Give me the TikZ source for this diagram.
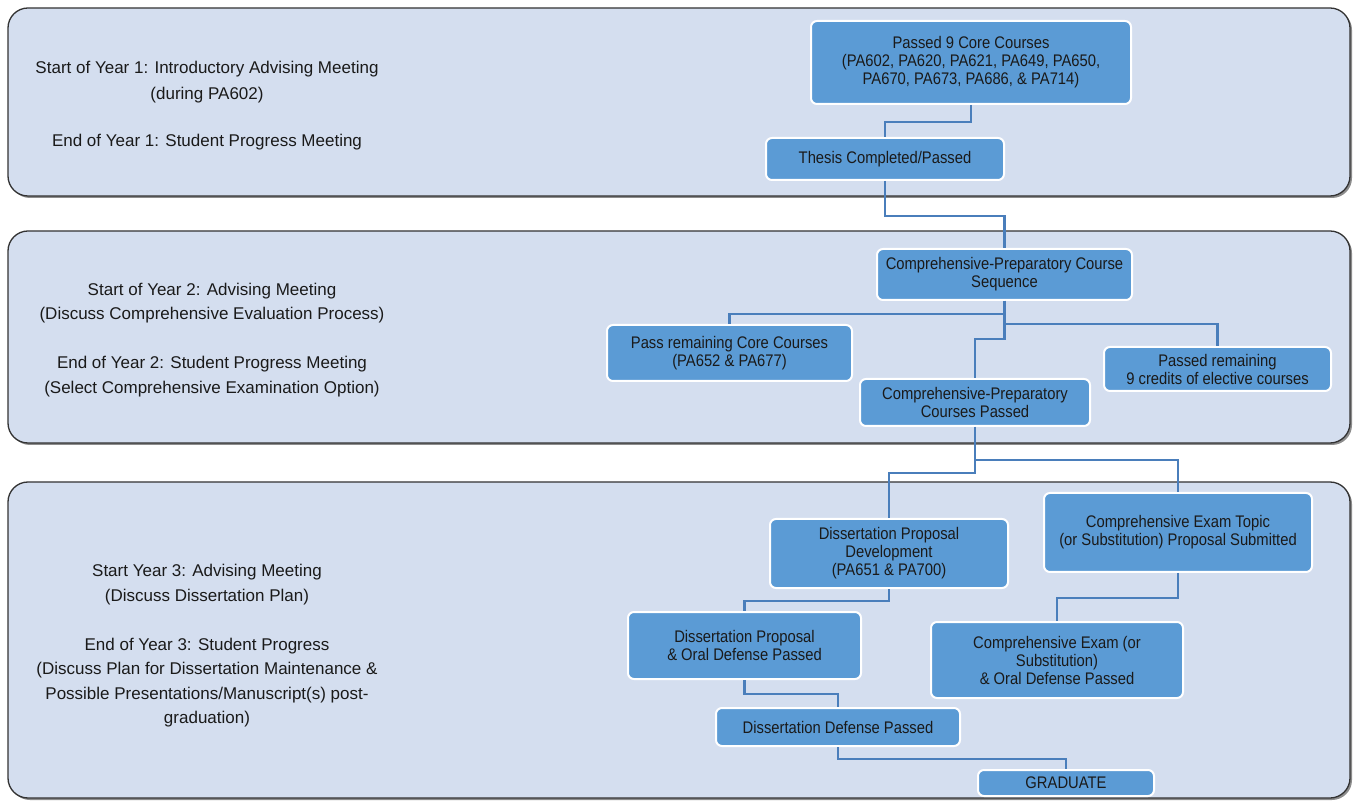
\documentclass[tikz,border=0pt]{standalone}
\usepackage{fontspec}
\setmainfont{Liberation Sans}
\newfontfamily\boxfont{Liberation Sans}[FakeStretch=0.88]
\usetikzlibrary{positioning}
\definecolor{bandfill}{HTML}{D4DEEF}
\definecolor{boxfill}{HTML}{5B9BD5}
\definecolor{linkcol}{HTML}{4A7EBB}
\definecolor{txt}{HTML}{1A1A1A}

\tikzset{
  band/.style={draw=black!80, line width=0.65pt, fill=bandfill, rounded corners=10pt},
  bandshadow/.style={fill=black!45, rounded corners=10pt},
  stage/.style={draw=white, line width=1pt, fill=boxfill, rounded corners=3pt,
    align=center, text=txt, inner sep=1pt,
    font=\boxfont\fontsize{8.4}{9}\selectfont},
  note/.style={align=center, text=txt, font=\fontsize{8.5}{12.25}\selectfont},
  link/.style={draw=linkcol, line width=1.1pt}
}

\begin{document}
\begin{tikzpicture}[x=0.5pt,y=-0.5pt]
\useasboundingbox (0,0) rectangle (1354,801);
\fill[white] (0,0) rectangle (1354,801);

%% year bands
\fill[bandshadow] (10,10) rectangle (1352,198);
\draw[band] (8,8) rectangle (1350,196);
\fill[bandshadow] (10,233) rectangle (1352,445);
\draw[band] (8,231) rectangle (1350,443);
\fill[bandshadow] (10,484) rectangle (1352,800);
\draw[band] (8,482) rectangle (1350,798);

%% meetings
\node[note, font=\fontsize{8.5}{13}\selectfont] (year1) at (207,106) {Start of Year 1: Introductory Advising Meeting\\(during PA602)\\[10.5pt]End of Year 1: Student Progress Meeting};
\node[note] (year2) at (212,340) {Start of Year 2: Advising Meeting\\(Discuss Comprehensive Evaluation Process)\\[12.25pt]End of Year 2: Student Progress Meeting\\(Select Comprehensive Examination Option)};
\node[note] (year3) at (207,646) {Start Year 3: Advising Meeting\\(Discuss Dissertation Plan)\\[12.25pt]End of Year 3: Student Progress\\(Discuss Plan for Dissertation Maintenance \&\\Possible Presentations/Manuscript(s) post-\\graduation)};

%% milestones
\node[stage, minimum width=160pt, minimum height=41.5pt] (core) at (971,62.5) {Passed 9 Core Courses\\(PA602, PA620, PA621, PA649, PA650,\\PA670, PA673, PA686, \& PA714)};
\node[stage, minimum width=119pt, minimum height=21pt] (thesis) at (885,159) {Thesis Completed/Passed};
\node[stage, minimum width=127.5pt, minimum height=25.5pt] (seq) at (1004.5,274.5) {Comprehensive-Preparatory Course\\Sequence};
\node[stage, minimum width=122.5pt, minimum height=28pt] (pass) at (729.5,353) {Pass remaining Core Courses\\(PA652 \& PA677)};
\node[stage, minimum width=113.5pt, minimum height=22pt] (elect) at (1217.5,369) {Passed remaining\\9 credits of elective courses};
\node[stage, minimum width=115pt, minimum height=23.5pt] (cpp) at (975,402.5) {Comprehensive-Preparatory\\Courses Passed};
\node[stage, minimum width=119pt, minimum height=34.5pt] (dpd) at (889,553.5) {Dissertation Proposal\\Development\\(PA651 \& PA700)};
\node[stage, minimum width=134pt, minimum height=39.5pt] (topic) at (1178,532.5) {Comprehensive Exam Topic\\(or Substitution) Proposal Submitted};
\node[stage, minimum width=116.5pt, minimum height=33.5pt] (dpo) at (744.5,645.5) {Dissertation Proposal\\\& Oral Defense Passed};
\node[stage, minimum width=126pt, minimum height=38pt] (exam) at (1057,660) {Comprehensive Exam (or\\Substitution)\\\& Oral Defense Passed};
\node[stage, minimum width=122pt, minimum height=19pt] (defense) at (838,727) {Dissertation Defense Passed};
\node[stage, minimum width=88pt, minimum height=13pt] (grad) at (1066,783) {GRADUATE};

%% connectors
\draw[link] (core.south) -- ++(0,17) -| (thesis.north);
\draw[link] (thesis.south) -- ++(0,35) -| (seq.north);
\draw[link] (seq.south) -- ++(0,13) -| (pass.north);
\draw[link] (seq.south) -- ++(0,23) -| (elect.north);
\draw[link] (seq.south) -- ++(0,38) -| (cpp.north);
\draw[link] (cpp.south) -- ++(0,33) -| (topic.north);
\draw[link] (cpp.south) -- ++(0,46) -| (dpd.north);
\draw[link] (dpd.south) -- ++(0,12) -| (dpo.north);
\draw[link] (topic.south) -- ++(0,25) -| (exam.north);
\draw[link] (dpo.south) -- ++(0,14) -| (defense.north);
\draw[link] (defense.south) -- ++(0,12) -| (grad.north);

\end{tikzpicture}
\end{document}
